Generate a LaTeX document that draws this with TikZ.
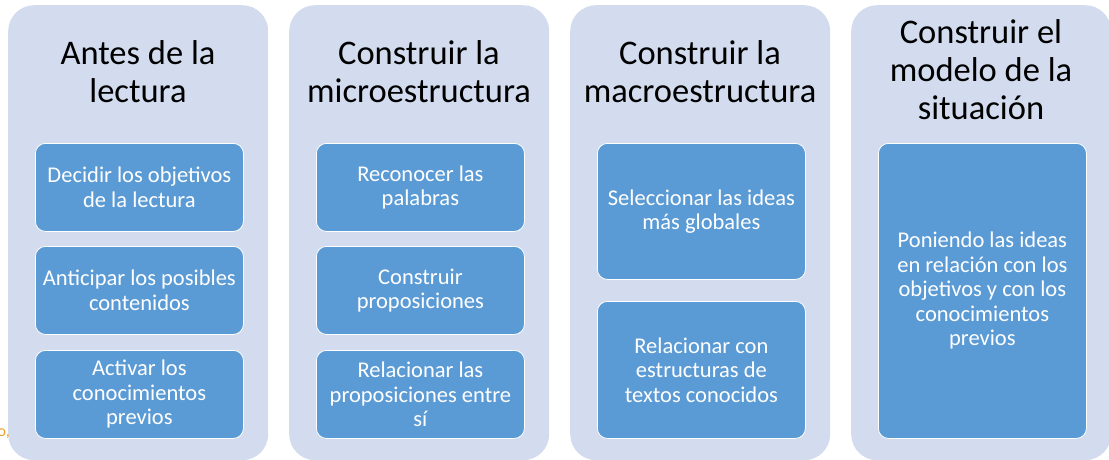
\documentclass[tikz,border=0pt]{standalone}
\usepackage{fontspec}
\setmainfont{Carlito}
\definecolor{outerblue}{RGB}{210,220,238}
\definecolor{innerblue}{RGB}{91,155,213}
\definecolor{fragorange}{RGB}{240,160,40}
\tikzset{
  column/.style={fill=outerblue, draw=none, rounded corners=26pt, anchor=north west,
    minimum width=260pt, minimum height=455pt, inner sep=0pt},
  title/.style={align=center, text=black, font=\fontsize{34.5}{38}\selectfont, inner sep=0pt},
  item/.style={fill=innerblue, draw=white, line width=0.8pt, rounded corners=10pt,
    anchor=north west, minimum width=208pt, align=center, text=white,
    font=\fontsize{22.5}{24.5}\selectfont, inner sep=0pt},
}
\begin{document}
\begin{tikzpicture}[x=1pt,y=-1pt]
\useasboundingbox (0,0) rectangle (1109,460);
% columns
\node[column] (c1) at (8,5) {};
\node[column] (c2) at (289,5) {};
\node[column] (c3) at (570,5) {};
\node[column] (c4) at (851,5) {};
% titles
\node[title] (t1) at (138,72) {Antes de la\\lectura};
\node[title] (t2) at (419,72) {Construir la\\microestructura};
\node[title] (t3) at (700,72) {Construir la\\macroestructura};
\node[title] (t4) at (981,70) {Construir el\\modelo de la\\situación};
% column 1 items
\node[item, minimum height=88pt] (a1) at (35,143) {Decidir los objetivos\\de la lectura};
\node[item, minimum height=88pt] (a2) at (35,246) {Anticipar los posibles\\contenidos};
\node[item, minimum height=88pt] (a3) at (35,350) {Activar los\\conocimientos\\previos};
% column 2 items
\node[item, minimum height=88pt] (b1) at (316,143) {Reconocer las\\palabras};
\node[item, minimum height=88pt] (b2) at (316,246) {Construir\\proposiciones};
\node[item, minimum height=88pt] (b3) at (316,350) {Relacionar las\\proposiciones entre\\sí};
% column 3 items
\node[item, minimum height=136pt] (m1) at (597,143) {Seleccionar las ideas\\más globales};
\node[item, minimum height=137pt] (m2) at (597,301) {Relacionar con\\estructuras de\\textos conocidos};
% column 4 item
\node[item, minimum height=295pt] (s1) at (878,143) {Poniendo las ideas\\en relación con los\\objetivos y con los\\conocimientos\\previos};
% orange fragment at left edge
\node[anchor=east, text=fragorange, font=\fontsize{16}{18}\selectfont, inner sep=0pt] (frag) at (10,434) {o,};
\end{tikzpicture}
\end{document}
